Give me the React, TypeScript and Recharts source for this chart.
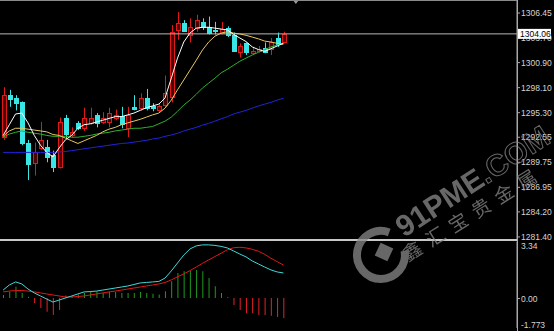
import { Bar, Cell, ComposedChart, Line, ReferenceDot, ReferenceLine, XAxis, YAxis } from "recharts";

// bar slots on the time axis (candles fill the left part, the rest is chart shift)
const SLOTS = 83;

const OPEN = [
  1292.5, 1297.2, 1296.9, 1296.4, 1291.9, 1289.6, 1291.3, 1291.4, 1290.5, 1289.2,
  1294.6, 1292.7, 1294.1, 1293.5, 1294.1, 1295.0, 1294.2, 1294.2, 1294.6, 1294.9,
  1293.5, 1295.9, 1295.8, 1296.9, 1296.0, 1295.5, 1296.1, 1297.0, 1304.5, 1305.3,
  1303.9, 1304.7, 1305.4, 1304.8, 1304.5, 1304.2, 1304.7, 1303.9, 1302.0, 1303.0,
  1301.9, 1302.2, 1302.5, 1302.4, 1303.6, 1303.1,
];
const HIGH = [
  1298.1, 1297.8, 1297.2, 1296.5, 1292.2, 1291.9, 1294.2, 1292.2, 1291.0, 1294.7,
  1295.0, 1293.6, 1294.3, 1295.8, 1295.8, 1295.2, 1295.3, 1295.8, 1295.6, 1295.9,
  1295.9, 1297.2, 1297.4, 1297.9, 1296.3, 1296.3, 1299.4, 1305.05, 1306.5, 1305.6,
  1305.8, 1306.2, 1305.8, 1306.0, 1305.4, 1305.4, 1304.9, 1304.2, 1303.0, 1303.1,
  1302.6, 1302.7, 1303.1, 1303.6, 1304.2, 1304.3,
];
const LOW = [
  1292.2, 1295.9, 1295.5, 1291.6, 1287.7, 1288.2, 1291.1, 1289.7, 1288.6, 1289.0,
  1292.4, 1292.5, 1293.3, 1293.2, 1293.9, 1293.6, 1294.0, 1293.6, 1294.4, 1293.5,
  1292.5, 1295.5, 1295.5, 1295.5, 1295.4, 1295.3, 1295.9, 1296.4, 1303.4, 1304.3,
  1303.1, 1304.3, 1304.5, 1304.0, 1304.0, 1304.0, 1303.7, 1302.1, 1301.4, 1301.7,
  1301.7, 1302.0, 1301.9, 1301.7, 1302.6, 1303.0,
];
const CLOSE = [
  1297.2, 1296.8, 1296.3, 1291.8, 1289.5, 1290.8, 1292.2, 1290.3, 1289.2, 1294.2,
  1292.9, 1293.1, 1293.5, 1294.7, 1294.7, 1294.1, 1294.7, 1295.2, 1295.0, 1294.0,
  1295.0, 1295.6, 1296.9, 1295.8, 1295.8, 1296.0, 1297.5, 1304.3, 1305.3, 1304.4,
  1304.8, 1305.6, 1304.8, 1304.2, 1304.35, 1304.6, 1303.9, 1302.2, 1302.7, 1302.0,
  1302.2, 1302.4, 1302.0, 1303.1, 1302.9, 1304.06,
];

// moving averages
const MA5 = [
  1292.7, 1293.9, 1295.1, 1295.2, 1294.1, 1292.7, 1291.6, 1290.8, 1290.3, 1291.3,
  1292.2, 1292.7, 1293.5, 1293.9, 1294.0, 1294.2, 1294.4, 1294.6, 1294.8, 1294.8,
  1295.0, 1295.2, 1295.5, 1295.8, 1296.0, 1296.2, 1296.9, 1299.1, 1301.35, 1303.15,
  1304.15, 1304.7, 1304.8, 1304.8, 1304.7, 1304.6, 1304.5, 1304.0, 1303.6, 1303.2,
  1302.6, 1302.3, 1302.1, 1302.4, 1302.7, 1303.0,
];
const MA10 = [
  1292.6, 1293.2, 1293.5, 1293.5, 1293.4, 1293.3, 1293.2, 1293.1, 1292.8, 1292.7,
  1292.4, 1292.1, 1291.8, 1292.1, 1292.4, 1292.7, 1293.1, 1293.4, 1293.6, 1293.9,
  1294.1, 1294.3, 1294.5, 1294.75, 1295.0, 1295.2, 1295.75, 1296.65, 1297.8, 1298.9,
  1300.0, 1301.1, 1302.25, 1303.15, 1303.8, 1304.15, 1304.3, 1304.15, 1304.05, 1303.9,
  1303.7, 1303.5, 1303.25, 1303.15, 1303.0, 1302.9,
];
const MA20 = [
  1292.5, 1292.85, 1293.05, 1293.2, 1293.05, 1292.95, 1292.85, 1292.7, 1292.6, 1292.6,
  1292.6, 1292.5, 1292.5, 1292.6, 1292.7, 1292.85, 1292.95, 1293.05, 1293.2, 1293.3,
  1293.4, 1293.5, 1293.5, 1293.6, 1293.7, 1294.0, 1294.3, 1294.75, 1295.4, 1296.1,
  1296.65, 1297.3, 1298.0, 1298.55, 1299.1, 1299.7, 1300.1, 1300.55, 1301.0, 1301.35,
  1301.7, 1302.0, 1302.3, 1302.6, 1302.8, 1303.0,
];
const MA60 = [
  1290.8, 1290.8, 1290.8, 1290.8, 1290.8, 1290.8, 1290.8, 1290.8, 1290.8, 1290.85,
  1290.9, 1291.0, 1291.1, 1291.2, 1291.3, 1291.4, 1291.5, 1291.6, 1291.7, 1291.8,
  1291.85, 1291.95, 1292.05, 1292.15, 1292.3, 1292.4, 1292.6, 1292.75, 1292.95, 1293.2,
  1293.4, 1293.6, 1293.85, 1294.05, 1294.3, 1294.55, 1294.8, 1295.1, 1295.3, 1295.5,
  1295.75, 1296.0, 1296.2, 1296.4, 1296.65, 1296.85,
];

// MACD panel
const DIF = [
  0.47, 0.77, 0.95, 0.83, 0.53, 0.3, 0.12, -0.06, -0.24, -0.12,
  0, 0.12, 0.24, 0.36, 0.38, 0.41, 0.47, 0.53, 0.59, 0.65,
  0.71, 0.8, 0.89, 0.92, 0.95, 0.98, 1.18, 1.6, 2.07, 2.54,
  2.9, 3.08, 3.14, 3.14, 3.11, 3.05, 2.96, 2.78, 2.6, 2.43,
  2.19, 2.01, 1.83, 1.66, 1.54, 1.48,
];
const DEA = [
  0.36, 0.41, 0.44, 0.44, 0.41, 0.36, 0.3, 0.24, 0.18, 0.12,
  0.06, 0.06, 0.09, 0.12, 0.18, 0.24, 0.3, 0.36, 0.41, 0.47,
  0.53, 0.59, 0.65, 0.71, 0.77, 0.83, 0.92, 1.07, 1.25, 1.42,
  1.62, 1.83, 2.05, 2.25, 2.45, 2.65, 2.85, 2.97, 3.0, 2.96,
  2.88, 2.76, 2.58, 2.35, 2.15, 1.95,
];
const HIST = [
  0.18, 0.37, 0.67, 0.3, 0.08, -0.3, -0.59, -0.81, -1.0, -0.71,
  0.15, 0.1, 0.2, 0.3, 0.4, 0.4, 0.3, 0.35, 0.35, 0.3,
  0.3, 0.3, 0.35, 0.3, 0.25, 0.2, 0.4, 0.99, 1.48, 1.58,
  1.6, 1.66, 1.58, 1.18, 0.69, 0.3, 0.05, -0.41, -0.71, -0.9,
  -0.9, -1.0, -1.0, -1.05, -1.12, -1.18,
];

const PRICE_DOMAIN = [1281.0, 1307.85];
const LAST_PRICE = 1304.06;
const PRICE_TICKS = [1306.45, 1303.7, 1300.9, 1298.1, 1295.3, 1292.55, 1289.75, 1286.95, 1284.2, 1281.4, LAST_PRICE];
const MACD_DOMAIN = [-1.773, 3.34];
const MACD_TICKS = [3.34, 0, -1.773];

const UP = "#e01818";
const UP_FILL = "#4a0404";
const DOWN = "#38e6e6";
const AXIS = "#a8a8a8";
const LABEL = "#d4d4d4";
const FONT = "'Liberation Sans', Arial, sans-serif";

const rows = Array.from({ length: SLOTS }, (_, i) => {
  if (i >= OPEN.length) return { i };
  return {
    i,
    range: [LOW[i], HIGH[i]],
    open: OPEN[i],
    high: HIGH[i],
    low: LOW[i],
    close: CLOSE[i],
    ma5: MA5[i],
    ma10: MA10[i],
    ma20: MA20[i],
    ma60: MA60[i],
    dif: DIF[i],
    dea: DEA[i],
    hist: HIST[i],
  };
});

function Candle(props: any) {
  const { x, y, width, height, payload } = props;
  if (!payload || payload.open == null || !height) return <g />;
  const top = Math.min(y, y + height);
  const h = Math.abs(height);
  const { open, close, high, low } = payload;
  const toY = (v: number) => top + ((high - v) / (high - low)) * h;
  const cx = Math.round(x + width / 2) + 0.5;
  const up = close >= open;
  const color = up ? UP : DOWN;
  const bTop = Math.round(toY(Math.max(open, close))) + 0.5;
  const bBot = Math.round(toY(Math.min(open, close))) + 0.5;
  return (
    <g>
      <line x1={cx} x2={cx} y1={top} y2={top + h} stroke={color} strokeWidth={1} />
      <rect
        x={cx - 2}
        y={bTop}
        width={4}
        height={Math.max(bBot - bTop, 1)}
        fill={up ? UP_FILL : DOWN}
        stroke={color}
        strokeWidth={1}
      />
    </g>
  );
}

function PriceTick(props: any) {
  const { x, y, payload } = props;
  const v = payload.value as number;
  if (v === LAST_PRICE) {
    return (
      <g>
        <rect x={x + 1} y={y - 5} width={33} height={10} fill="#ffffff" />
        <text x={x + 3} y={y + 3} fontSize={8.5} fontFamily={FONT} fill="#000000">
          {v.toFixed(2)}
        </text>
      </g>
    );
  }
  return (
    <g>
      <line x1={x} x2={x + 3} y1={y + 0.5} y2={y + 0.5} stroke={AXIS} />
      <text x={x + 4} y={y + 3.5} fontSize={8.5} fontFamily={FONT} fill={LABEL}>
        {v.toFixed(2)}
      </text>
    </g>
  );
}

function MacdTick(props: any) {
  const { x, y, payload } = props;
  const v = payload.value as number;
  const text = v === 0 ? "0.00" : v < 0 ? v.toFixed(3) : v.toFixed(2);
  // top label hangs below its level, bottom label sits above it
  const dy = v === MACD_TICKS[0] ? 7.5 : v === MACD_TICKS[2] ? 0 : 3.5;
  return (
    <g>
      {v === 0 && <line x1={x} x2={x + 3} y1={y + 0.5} y2={y + 0.5} stroke={AXIS} />}
      <text x={x + 4} y={y + dy} fontSize={8.5} fontFamily={FONT} fill={LABEL}>
        {text}
      </text>
    </g>
  );
}

function ShiftMarker(props: any) {
  const { cx } = props;
  return <path d={`M${cx - 3} 0 L${cx + 3} 0 L${cx} 4 Z`} fill="#9a9a9a" />;
}

function Watermark() {
  const c = "#8a8a8a";
  return (
    <svg
      width={554}
      height={331}
      style={{ position: "absolute", left: 0, top: 0, pointerEvents: "none" }}
    >
      <g opacity={0.75}>
        <path d="M404.6 250.8 A24 24 0 1 1 389.2 232.4" stroke={c} strokeWidth={8} fill="none" />
        <rect x={-7} y={-7} width={14} height={14} fill={c} transform="translate(384 252) rotate(25)" />
        <text
          transform="translate(404 238) rotate(-33)"
          fontFamily={FONT}
          fontWeight="bold"
          fontSize={30}
          fill={c}
        >
          91PME
          <tspan fill="none" stroke={c} strokeWidth={1}>
            .COM
          </tspan>
        </text>
        <text
          transform="translate(408 262) rotate(-32)"
          fontFamily="'Noto Sans CJK SC', sans-serif"
          fontSize={19}
          letterSpacing={8}
          fill={c}
        >
          鑫汇宝贵金属
        </text>
      </g>
    </svg>
  );
}

export default function App() {
  return (
    <div
      style={{
        position: "fixed",
        left: 0,
        top: 0,
        width: 554,
        height: 331,
        background: "#000000",
        overflow: "hidden",
      }}
    >
      <div style={{ position: "absolute", left: 0, top: 0 }}>
        <ComposedChart width={554} height={245} data={rows} margin={{ top: 0, right: 0, left: 0, bottom: 5 }}>
          <XAxis dataKey="i" type="category" hide />
          <YAxis
            orientation="right"
            width={37}
            domain={PRICE_DOMAIN}
            ticks={PRICE_TICKS}
            interval={0}
            allowDataOverflow
            axisLine={{ stroke: AXIS }}
            tickLine={false}
            tickSize={0}
            tickMargin={0}
            tick={<PriceTick />}
          />
          <ReferenceLine y={LAST_PRICE} stroke="#b8b8b8" strokeWidth={1} />
          <Bar dataKey="range" shape={<Candle />} barSize={5} isAnimationActive={false} />
          <Line type="linear" dataKey="ma60" stroke="#2323d8" strokeWidth={1} dot={false} isAnimationActive={false} />
          <Line type="linear" dataKey="ma20" stroke="#2fb02f" strokeWidth={1} dot={false} isAnimationActive={false} />
          <Line type="linear" dataKey="ma10" stroke="#e6c860" strokeWidth={1} dot={false} isAnimationActive={false} />
          <Line type="linear" dataKey="ma5" stroke="#ffffff" strokeWidth={1} dot={false} isAnimationActive={false} />
          <ReferenceDot x={47} y={PRICE_DOMAIN[1]} r={0} shape={<ShiftMarker />} ifOverflow="visible" />
        </ComposedChart>
      </div>
      <div style={{ position: "absolute", left: 0, top: 0, width: 517, height: 1, background: "#8a8a8a" }} />
      <div style={{ position: "absolute", left: 0, top: 239, width: 517, height: 2, background: "#c8c8c8" }} />
      <div style={{ position: "absolute", left: 0, top: 240 }}>
        <ComposedChart width={554} height={91} data={rows} margin={{ top: 1.5, right: 0, left: 0, bottom: 3 }}>
          <XAxis dataKey="i" type="category" hide />
          <YAxis
            orientation="right"
            width={37}
            domain={MACD_DOMAIN}
            ticks={MACD_TICKS}
            interval={0}
            allowDataOverflow
            axisLine={{ stroke: AXIS }}
            tickLine={false}
            tickSize={0}
            tickMargin={0}
            tick={<MacdTick />}
          />
          <Bar dataKey="hist" barSize={1} isAnimationActive={false}>
            {rows.map((r: any) => (
              <Cell key={r.i} fill={r.hist != null && r.hist < 0 ? "#e8202a" : "#1f9a1f"} />
            ))}
          </Bar>
          <Line type="linear" dataKey="dea" stroke="#e01818" strokeWidth={1} dot={false} isAnimationActive={false} />
          <Line type="linear" dataKey="dif" stroke="#40d8d8" strokeWidth={1} dot={false} isAnimationActive={false} />
        </ComposedChart>
      </div>
      <div style={{ position: "absolute", left: 517, top: 0, width: 1, height: 331, background: AXIS }} />
      <Watermark />
    </div>
  );
}
